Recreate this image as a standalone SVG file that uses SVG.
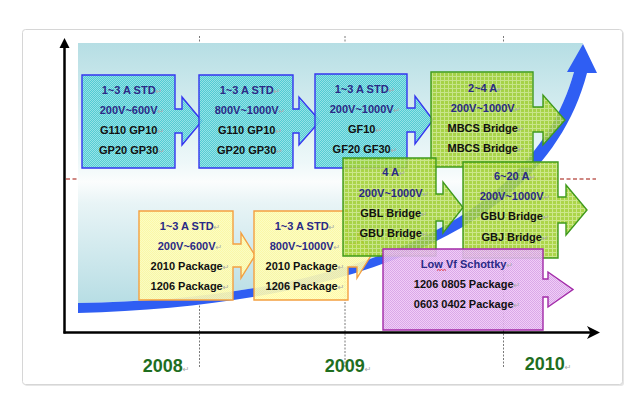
<svg xmlns="http://www.w3.org/2000/svg" width="638" height="399" viewBox="0 0 638 399">
<style>
.t{font-family:"Liberation Sans",Arial,sans-serif;font-weight:bold;font-size:11px;text-anchor:middle;fill:#111}
.n{fill:#2a2a86}
.m{font-family:"DejaVu Sans",sans-serif;font-weight:normal;font-size:8px;fill:#a8a8a8}
.yr{font-family:"Liberation Sans",Arial,sans-serif;font-weight:bold;font-size:18px;text-anchor:middle;fill:#1f6e1f}
.cy{fill:url(#pc);fill-opacity:0.9;stroke:#3535f0;stroke-width:1.4}
.gr{fill:url(#pg);fill-opacity:0.88;stroke:#3f9a1c;stroke-width:1.4}
.ye{fill:url(#py);fill-opacity:0.9;stroke:#f4a040;stroke-width:1.4}
.pu{fill:url(#pp);fill-opacity:0.9;stroke:#a22aa8;stroke-width:1.4}
.dot{stroke:#7a7a7a;stroke-width:1;stroke-dasharray:2 1.5;fill:none}
</style>
<defs>
<pattern id="pc" width="2" height="2" patternUnits="userSpaceOnUse"><rect width="2" height="2" fill="#44c8d0"/><rect width="1" height="1" fill="#8ee1e5"/><rect x="1" y="1" width="1" height="1" fill="#8ee1e5"/></pattern>
<pattern id="pg" width="4" height="4" patternUnits="userSpaceOnUse"><rect width="4" height="4" fill="#a0cf30"/><rect width="4" height="1" fill="#c6e47c"/><rect width="1" height="4" fill="#c6e47c"/></pattern>
<pattern id="py" width="2" height="2" patternUnits="userSpaceOnUse"><rect width="2" height="2" fill="#ffffbe"/><rect width="1" height="1" fill="#fff8a0"/><rect x="1" y="1" width="1" height="1" fill="#fff8a0"/></pattern>
<pattern id="pp" width="2" height="2" patternUnits="userSpaceOnUse"><rect width="2" height="2" fill="#eec8f6"/><rect width="1" height="1" fill="#d69ee6"/><rect x="1" y="1" width="1" height="1" fill="#d69ee6"/></pattern>
<linearGradient id="bg" gradientUnits="userSpaceOnUse" x1="0" y1="43" x2="0" y2="310">
<stop offset="0" stop-color="#b6dee4"/>
<stop offset="0.45" stop-color="#eef8f9"/>
<stop offset="0.52" stop-color="#fbfdfd"/>
<stop offset="0.6" stop-color="#e8f4f6"/>
<stop offset="1" stop-color="#b4dce3"/>
</linearGradient>
</defs>

<rect x="24" y="31" width="600" height="355" rx="3" fill="#e6e6e6"/>
<rect x="22.5" y="29.5" width="600" height="355" rx="3" fill="#ffffff" stroke="#d6d6d6"/>

<g id="guides">
<line class="dot" x1="199.5" y1="36" x2="199.5" y2="368"/>
<line class="dot" x1="345" y1="36" x2="345" y2="368"/>
<line class="dot" x1="503.5" y1="36" x2="503.5" y2="368"/>
<line x1="66" y1="179" x2="596" y2="179" stroke="#c0605a" stroke-width="1.5" stroke-dasharray="4 2.5"/>
</g>

<path id="band" d="M78,43 H583 L574,72 C530,230 330,300 78,303 Z" fill="url(#bg)"/>

<g id="trend">
<path d="M78,303 C330,300 530,230 574,72 L567,72 L583,44 L597,73 L587,73 C545,235 340,306 78,313 Z" fill="#2f5ef3"/>
</g>

<g id="axes">
<line x1="64.5" y1="333.5" x2="64.5" y2="46" stroke="#000" stroke-width="2.5"/>
<polygon points="64.5,38 59.5,48 69.5,48" fill="#000"/>
<line x1="63.5" y1="332.5" x2="592" y2="332.5" stroke="#000" stroke-width="2.5"/>
<polygon points="600,332.5 587,326 590.5,332.5 587,339" fill="#000"/>
</g>

<g id="box1">
<path class="cy" d="M82,75 H175 V109 H182 V97 L202,121 L182,145 V133 H175 V168 H82 Z"/>
<text class="t" x="132" y="94"><tspan class="n">1~3 A STD</tspan><tspan class="m">↵</tspan></text>
<text class="t" x="132" y="114"><tspan class="n">200V~600V</tspan><tspan class="m">↵</tspan></text>
<text class="t" x="132" y="134">G110 GP10<tspan class="m">↵</tspan></text>
<text class="t" x="132" y="154">GP20 GP30<tspan class="m">↵</tspan></text>
</g>
<g id="box2">
<path class="cy" d="M199,75 H293 V109 H299 V97 L320,121 L299,145 V133 H293 V168 H199 Z"/>
<text class="t" x="250" y="94"><tspan class="n">1~3 A STD</tspan><tspan class="m">↵</tspan></text>
<text class="t" x="250" y="114"><tspan class="n">800V~1000V</tspan><tspan class="m">↵</tspan></text>
<text class="t" x="250" y="134">G110 GP10<tspan class="m">↵</tspan></text>
<text class="t" x="250" y="154">GP20 GP30<tspan class="m">↵</tspan></text>
</g>
<g id="box3">
<path class="cy" d="M315,74 H407 V108 H415 V96 L433,120 L415,144 V132 H407 V168 H315 Z"/>
<text class="t" x="365" y="93"><tspan class="n">1~3 A STD</tspan><tspan class="m">↵</tspan></text>
<text class="t" x="365" y="113"><tspan class="n">200V~1000V</tspan><tspan class="m">↵</tspan></text>
<text class="t" x="365" y="133">GF10<tspan class="m">↵</tspan></text>
<text class="t" x="365" y="153">GF20 GF30<tspan class="m">↵</tspan></text>
</g>
<g id="box4">
<path class="gr" d="M431,72 H533 V107 H543 V95 L565,120 L543,145 V132 H533 V167 H431 Z"/>
<text class="t" x="486" y="92"><tspan class="n">2~4 A</tspan><tspan class="m">↵</tspan></text>
<text class="t" x="486" y="112"><tspan class="n">200V~1000V</tspan><tspan class="m">↵</tspan></text>
<text class="t" x="486" y="132">MBCS Bridge<tspan class="m">↵</tspan></text>
<text class="t" x="486" y="152">MBCS Bridge<tspan class="m">↵</tspan></text>
</g>
<g id="box7">
<path class="ye" d="M139,211 H233 V244 H241 V233 L255,255.5 L241,278 V267 H233 V300 H139 Z"/>
<text class="t" x="190" y="230"><tspan class="n">1~3 A STD</tspan><tspan class="m">↵</tspan></text>
<text class="t" x="190" y="250"><tspan class="n">200V~600V</tspan><tspan class="m">↵</tspan></text>
<text class="t" x="190" y="270">2010 Package<tspan class="m">↵</tspan></text>
<text class="t" x="190" y="290">1206 Package<tspan class="m">↵</tspan></text>
</g>
<g id="box8">
<path class="ye" d="M254,211 H348 V244 H357 V233 L371,255.5 L357,278 V267 H348 V300 H254 Z"/>
<text class="t" x="305" y="230"><tspan class="n">1~3 A STD</tspan><tspan class="m">↵</tspan></text>
<text class="t" x="305" y="250"><tspan class="n">800V~1000V</tspan><tspan class="m">↵</tspan></text>
<text class="t" x="305" y="270">2010 Package<tspan class="m">↵</tspan></text>
<text class="t" x="305" y="290">1206 Package<tspan class="m">↵</tspan></text>
</g>
<g id="box5">
<path class="gr" d="M343,158 H436 V194 H443 V182 L463,207.5 L443,233 V221 H436 V256 H343 Z"/>
<text class="t" x="394" y="176"><tspan class="n">4 A</tspan><tspan class="m">↵</tspan></text>
<text class="t" x="394" y="197"><tspan class="n">200V~1000V</tspan><tspan class="m">↵</tspan></text>
<text class="t" x="394" y="217">GBL Bridge<tspan class="m">↵</tspan></text>
<text class="t" x="394" y="237">GBU Bridge<tspan class="m">↵</tspan></text>
</g>
<g id="box6">
<path class="gr" d="M463,162 H558 V197 H566 V185 L587,210 L566,235 V223 H558 V258 H463 Z"/>
<text class="t" x="515" y="180"><tspan class="n">6~20 A</tspan><tspan class="m">↵</tspan></text>
<text class="t" x="515" y="200"><tspan class="n">200V~1000V</tspan><tspan class="m">↵</tspan></text>
<text class="t" x="515" y="220">GBU Bridge<tspan class="m">↵</tspan></text>
<text class="t" x="515" y="241">GBJ Bridge<tspan class="m">↵</tspan></text>
</g>
<g id="box9">
<path class="pu" d="M383,249 H543 V279 H548 V272 L573,289.5 L548,307 V297 H543 V330 H383 Z"/>
<text class="t" x="467" y="268"><tspan class="n">Low Vf Schottky</tspan><tspan class="m">↵</tspan></text>
<path d="M437,270.5 l1.5,-1 l1.5,1 l1.5,-1 l1.5,1 l1.5,-1 l1.5,1" fill="none" stroke="#e02020" stroke-width="0.8"/>
<text class="t" x="467" y="288">1206 0805 Package<tspan class="m">↵</tspan></text>
<text class="t" x="467" y="308">0603 0402 Package<tspan class="m">↵</tspan></text>
</g>

<g id="years">
<text class="yr" x="166" y="372">2008<tspan class="m">↵</tspan></text>
<text class="yr" x="348" y="372">2009<tspan class="m">↵</tspan></text>
<text class="yr" x="548" y="370">2010<tspan class="m">↵</tspan></text>
</g>
</svg>
